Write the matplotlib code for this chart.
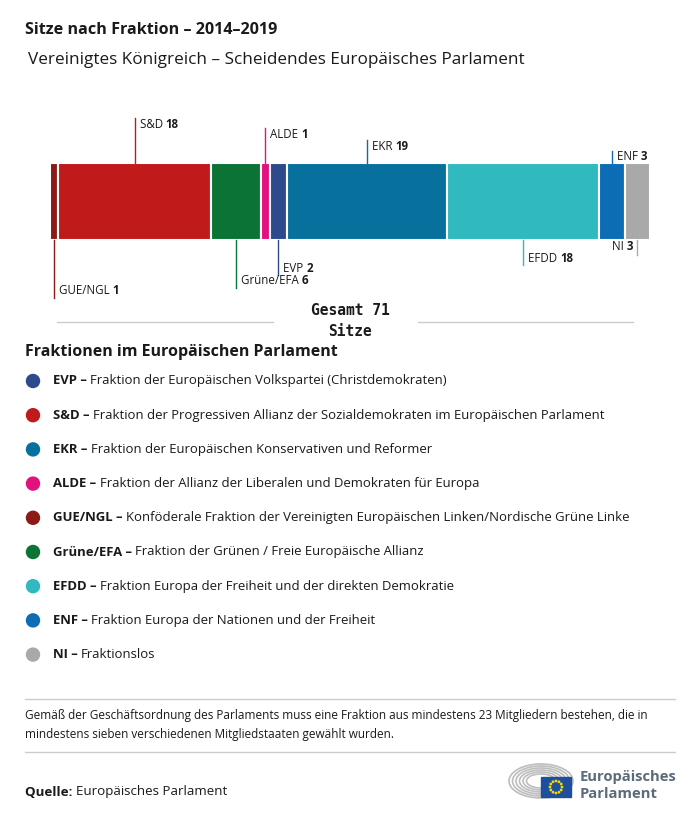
import numpy as np
import matplotlib
matplotlib.use("Agg")
import matplotlib.pyplot as plt
from matplotlib.lines import Line2D
from matplotlib.patches import Arc, Rectangle, Circle

# --- data ---
groups = ["GUE/NGL", "S&D", "Grüne/EFA", "ALDE", "EVP", "EKR", "EFDD", "ENF", "NI"]
seats = [1, 18, 6, 1, 2, 19, 18, 3, 3]
colors = ["#8c1b17", "#c11a1b", "#0b7435", "#e1127f", "#2d4a8c",
          "#07709d", "#30babf", "#0c6cb4", "#a9a9a9"]

legend_abbr = ["EVP", "S&D", "EKR", "ALDE", "GUE/NGL", "Grüne/EFA", "EFDD", "ENF", "NI"]
legend_desc = [
    "Fraktion der Europäischen Volkspartei (Christdemokraten)",
    "Fraktion der Progressiven Allianz der Sozialdemokraten im Europäischen Parlament",
    "Fraktion der Europäischen Konservativen und Reformer",
    "Fraktion der Allianz der Liberalen und Demokraten für Europa",
    "Konföderale Fraktion der Vereinigten Europäischen Linken/Nordische Grüne Linke",
    "Fraktion der Grünen / Freie Europäische Allianz",
    "Fraktion Europa der Freiheit und der direkten Demokratie",
    "Fraktion Europa der Nationen und der Freiheit",
    "Fraktionslos",
]

title = "Sitze nach Fraktion – 2014–2019"
subtitle = "Vereinigtes Königreich – Scheidendes Europäisches Parlament"
total_label = "Gesamt 71\nSitze"
note = ("Gemäß der Geschäftsordnung des Parlaments muss eine Fraktion aus mindestens 23 Mitgliedern bestehen, die in\n"
        "mindestens sieben verschiedenen Mitgliedstaaten gewählt wurden.")

# label layout: (side, line length in px)
label_layout = {
    "GUE/NGL": ("below", 58), "S&D": ("above", 45), "Grüne/EFA": ("below", 48),
    "ALDE": ("above", 35), "EVP": ("below", 35), "EKR": ("above", 23),
    "EFDD": ("below", 25), "ENF": ("above", 12), "NI": ("below", 15),
}

W, H = 700, 818
plt.rcParams["font.family"] = ["Open Sans", "DejaVu Sans"]
fig = plt.figure(figsize=(W / 100, H / 100), dpi=100)
fig.patch.set_facecolor("white")
txtc = "#1a1a1a"


def fx(x):
    return x / W


def fy(y):
    return 1 - y / H


def rich(x, y, parts, size, ha="left", va="center", color=txtc):
    fig.canvas.draw()
    r = fig.canvas.get_renderer()
    cur = x
    seq = parts if ha == "left" else parts[::-1]
    for s, w in seq:
        t = fig.text(fx(cur), fy(y), s, fontsize=size, fontweight=w, ha=ha, va=va, color=color)
        bb = t.get_window_extent(r)
        cur = cur + bb.width if ha == "left" else cur - bb.width


# titles
fig.text(fx(25), fy(30), title, fontsize=11.6, fontweight="bold", va="center", color=txtc)
fig.text(fx(28), fy(60), subtitle, fontsize=12.35, va="center", color=txtc)

# stacked bar
bar_top, bar_bot = 163, 240
ax = fig.add_axes([fx(50), fy(bar_bot), fx(600), (bar_bot - bar_top) / H])
lefts = np.concatenate([[0], np.cumsum(seats)[:-1]])
ax.barh(0, seats, left=lefts, height=1, color=colors, edgecolor="white", linewidth=1.5)
ax.set_xlim(0, sum(seats))
ax.set_ylim(-0.5, 0.5)
ax.axis("off")

fig.canvas.draw()
for g, n, l, c in zip(groups, seats, lefts, colors):
    xpix = ax.transData.transform((l + n / 2, 0))[0]
    side, length = label_layout[g]
    if side == "above":
        y0, y1 = bar_top, bar_top - length
    else:
        y0, y1 = bar_bot, bar_bot + length
    fig.add_artist(Line2D([fx(xpix), fx(xpix)], [fy(y0), fy(y1)], color=c, lw=1.0))
    parts = [(g + " ", "normal"), (str(n), "bold")]
    if g == "NI":
        rich(xpix - 4, bar_bot + 7, parts, 8.3, ha="right")
    elif side == "above":
        rich(xpix + 5, y1 + 6, parts, 8.3)
    else:
        rich(xpix + 5, y1 - 7, parts, 8.3)

# total
fig.add_artist(Line2D([fx(57), fx(273)], [fy(322), fy(322)], color="#cccccc", lw=1))
fig.add_artist(Line2D([fx(418), fx(633)], [fy(322), fy(322)], color="#cccccc", lw=1))
fig.text(fx(350), fy(321), total_label, fontsize=10.5, fontweight="bold", ha="center",
         va="center", family="DejaVu Sans Mono", color=txtc, linespacing=1.45)

# legend
fig.text(fx(25), fy(352), "Fraktionen im Europäischen Parlament", fontsize=11.5,
         fontweight="bold", va="center", color=txtc)
col_of = dict(zip(groups, colors))
for i, (a, d) in enumerate(zip(legend_abbr, legend_desc)):
    y = 381 + i * 34.2
    fig.add_artist(Circle((33 / 100, (H - y) / 100), 0.065, color=col_of[a],
                          transform=fig.dpi_scale_trans))
    rich(53, y, [(a + " – ", "bold"), (d, "normal")], 9.45)

# footer
fig.add_artist(Line2D([fx(25), fx(675)], [fy(699), fy(699)], color="#cccccc", lw=1))
fig.text(fx(25), fy(725), note, fontsize=8.5, va="center", color=txtc, linespacing=1.6)
fig.add_artist(Line2D([fx(25), fx(675)], [fy(752), fy(752)], color="#cccccc", lw=1))
rich(25, 792, [("Quelle: ", "bold"), ("Europäisches Parlament", "normal")], 9.6)

# logo
lax = fig.add_axes([fx(505), fy(802), fx(70), 42 / H])
lax.set_xlim(505, 575)
lax.set_ylim(802, 760)
lax.axis("off")
for k in range(6):
    w = 64 - k * 7
    h = 34 - k * 4
    lax.add_patch(Arc((541, 781), w, h, theta1=0, theta2=360, color="#bdbdbd", lw=1.2))
lax.add_patch(Rectangle((530, 777), 12, 4, color="white"))
lax.add_patch(Rectangle((541, 777), 30, 20, color="#1d4f9c"))
for a in np.linspace(0, 2 * np.pi, 13)[:-1]:
    lax.add_patch(Circle((556 + 6 * np.cos(a), 787 + 6 * np.sin(a)), 0.7, color="#f5d800"))
fig.text(fx(580), fy(777), "Europäisches", fontsize=10.6, fontweight="bold", va="center",
         color="#5b6b7b")
fig.text(fx(580), fy(794), "Parlament", fontsize=10.6, fontweight="bold", va="center",
         color="#5b6b7b")

fig.savefig("out.png", dpi=100, facecolor="white")
